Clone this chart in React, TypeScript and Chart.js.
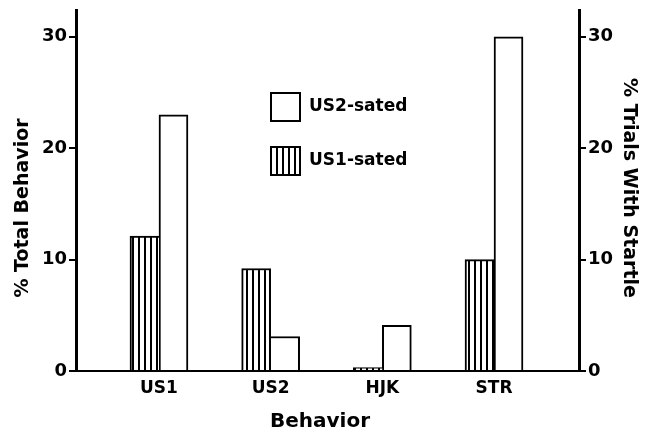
import React, { useEffect, useRef } from "react";
import { Chart, registerables } from "chart.js";

Chart.register(...registerables);

const categories = ["US1", "US2", "HJK", "STR"];
const us1Sated = [12.1, 9.2, 0.3, 10.0];
const us2Sated = [23.0, 3.1, 4.1, 30.0];
const yTicks = [0, 10, 20, 30];
const seriesLabels = ["US1-sated", "US2-sated"];
const leftTitle = "% Total Behavior";
const rightTitle = "% Trials With Startle";
const xTitle = "Behavior";

const FONT = '"DejaVu Sans"';

export default function App() {
  const ref = useRef<HTMLCanvasElement | null>(null);

  useEffect(() => {
    document.body.style.margin = "0";
    const canvas = ref.current;
    if (!canvas) return;
    const ctx = canvas.getContext("2d")!;

    const pc = document.createElement("canvas");
    pc.width = 6;
    pc.height = 6;
    const p = pc.getContext("2d")!;
    p.fillStyle = "#fff";
    p.fillRect(0, 0, 6, 6);
    p.fillStyle = "#000";
    p.fillRect(0, 0, 2, 6);
    const stripes = ctx.createPattern(pc, "repeat")!;

    const textPlugin = {
      id: "customTexts",
      afterDraw(chart: any) {
        const c = chart.ctx;
        c.save();
        c.fillStyle = "#000";
        c.textAlign = "center";
        c.textBaseline = "middle";
        c.font = `bold 19px ${FONT}`;
        c.save();
        c.translate(23, 208);
        c.rotate(-Math.PI / 2);
        c.fillText(leftTitle, 0, 0);
        c.restore();
        c.save();
        c.translate(629, 188);
        c.rotate(Math.PI / 2);
        c.fillText(rightTitle, 0, 0);
        c.restore();
        c.font = `bold 20px ${FONT}`;
        c.fillText(xTitle, 320, 422);

        // legend (inside the plot)
        const order = [1, 0];
        const rows = [107, 161];
        c.font = `bold 17px ${FONT}`;
        c.textAlign = "left";
        order.forEach((di, k) => {
          const ds = chart.data.datasets[di];
          const cy = rows[k];
          c.fillStyle = ds.backgroundColor;
          c.fillRect(271, cy - 14, 29, 28);
          c.lineWidth = 2;
          c.strokeStyle = "#000";
          c.strokeRect(271, cy - 14, 29, 28);
          c.fillStyle = "#000";
          c.fillText(ds.label, 309, cy);
        });
        c.restore();
      },
    };

    const yAxisCommon = {
      min: 0,
      max: 32.4,
      afterBuildTicks: (s: any) => {
        s.ticks = yTicks.map((v) => ({ value: v }));
      },
      grid: {
        display: true,
        drawOnChartArea: false,
        drawTicks: true,
        tickLength: 7,
        color: "#000",
        lineWidth: 2,
      },
      border: { display: true, color: "#000", width: 3 },
      ticks: {
        color: "#000",
        padding: 2,
        font: { family: FONT, size: 18, weight: "bold" as const },
      },
    };

    const chart = new Chart(ctx, {
      type: "bar",
      data: {
        datasets: [
          {
            label: seriesLabels[0],
            data: us1Sated.map((v, i) => ({ x: i + 1, y: v })),
            backgroundColor: stripes,
            borderColor: "#000",
            borderWidth: (c: any) => ({
              top: 2,
              left: 2,
              bottom: 0,
              right: us1Sated[c.dataIndex] >= us2Sated[c.dataIndex] ? 2 : 0,
            }),
          },
          {
            label: seriesLabels[1],
            data: us2Sated.map((v, i) => ({ x: i + 1, y: v })),
            backgroundColor: "#fff",
            borderColor: "#000",
            borderWidth: (c: any) => ({
              top: 2,
              right: 2,
              bottom: 0,
              left: us2Sated[c.dataIndex] > us1Sated[c.dataIndex] ? 2 : 0,
            }),
          },
        ],
      },
      options: {
        animation: false,
        responsive: false,
        barThickness: 29,
        layout: { padding: { top: 10, left: 0, right: 0, bottom: 0 } },
        plugins: {
          legend: { display: false },
          tooltip: { enabled: false },
        },
        scales: {
          x: {
            type: "linear",
            position: "bottom",
            offset: false,
            min: 0.257,
            max: 4.761,
            afterBuildTicks: (s: any) => {
              s.ticks = categories.map((_, i) => ({ value: i + 1 }));
            },
            afterFit: (s: any) => {
              s.height = 64;
              s.paddingLeft = 0;
              s.paddingRight = 0;
            },
            grid: { display: false, drawTicks: false, offset: false },
            border: { display: true, color: "#000", width: 2 },
            ticks: {
              autoSkip: false,
              maxRotation: 0,
              color: "#000",
              padding: 7,
              font: { family: FONT, size: 17, weight: "bold" },
              callback: (v: any) => categories[Math.round(Number(v)) - 1] ?? "",
            },
          },
          y: {
            ...yAxisCommon,
            position: "left",
            afterFit: (s: any) => {
              s.width = 76;
              s.paddingTop = 0;
              s.paddingBottom = 0;
            },
          },
          y2: {
            ...yAxisCommon,
            position: "right",
            afterFit: (s: any) => {
              s.width = 79;
              s.paddingTop = 0;
              s.paddingBottom = 0;
            },
          },
        },
      } as any,
      plugins: [textPlugin],
    });

    return () => chart.destroy();
  }, []);

  return (
    <div style={{ width: 658, height: 435 }}>
      <canvas ref={ref} width={658} height={435} />
    </div>
  );
}
